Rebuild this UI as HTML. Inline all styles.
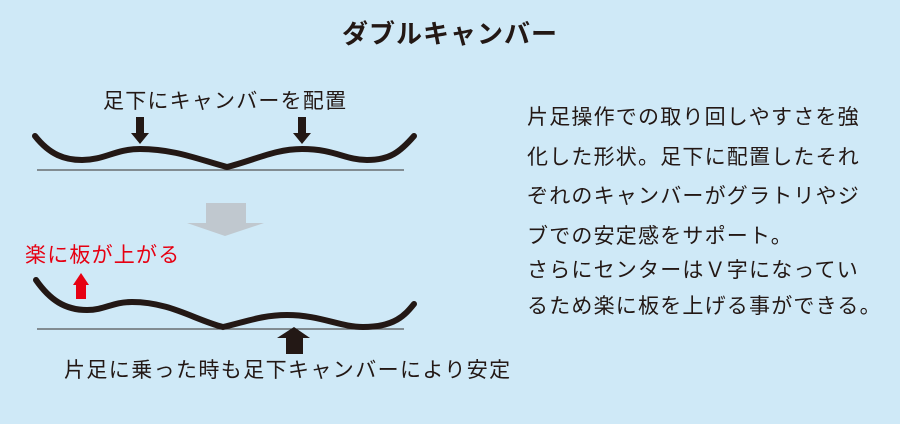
<!DOCTYPE html>
<html><head><meta charset="utf-8"><style>
html,body{margin:0;padding:0;background:#cfe9f7;}
svg{display:block;}
text{font-family:"Liberation Sans","Noto Sans CJK JP",sans-serif;fill:#231815;}
</style></head><body>
<svg width="900" height="424" viewBox="0 0 900 424" xmlns="http://www.w3.org/2000/svg">
<rect width="900" height="424" fill="#cfe9f7"/>
<text x="450" y="43" text-anchor="middle" font-size="26" font-weight="bold" letter-spacing="1">ダブルキャンバー</text>

<text x="103" y="108" font-size="21" letter-spacing="1.2">足下にキャンバーを配置</text>
<g fill="#231815">
<rect x="136" y="117" width="8" height="17"/><polygon points="131,133 149,133 140,144"/>
<rect x="298" y="117" width="8" height="17"/><polygon points="293,133 311,133 302,144"/>
</g>
<line x1="37" y1="170" x2="404" y2="170" stroke="#555" stroke-width="1.3"/>
<path d="M35,136 C50,155 65,160 82,160 C105,160 115,149 140,149 C175,149 200,160 227,167 C255,160 275,149 302,149 C335,149 345,160 367,160 C390,160 400,152 414,136" fill="none" stroke="#231815" stroke-width="6" stroke-linecap="round"/>

<g fill="#c0c8cf"><rect x="206" y="203" width="40" height="21"/><polygon points="187,223 264,223 225,236"/></g>

<text x="25" y="262" font-size="21" letter-spacing="1.2" style="fill:#e60012">楽に板が上がる</text>
<g fill="#e60012"><rect x="76" y="283" width="10" height="16"/><polygon points="73,285 89,285 81,273"/></g>

<line x1="37" y1="329" x2="404" y2="329" stroke="#555" stroke-width="1.3"/>
<path d="M36,280 C50,300 65,310 87,310 C105,310 112,302 132,302 C170,302 195,320 223,327 C245,322 262,315 287,315 C320,315 340,327 363,327 C395,327 405,315 414,304" fill="none" stroke="#231815" stroke-width="6" stroke-linecap="round"/>
<g fill="#231815"><rect x="286" y="337" width="17" height="17"/><polygon points="277,338 310,338 294,327"/></g>

<text x="64" y="377" font-size="21" letter-spacing="1.4">片足に乗った時も足下キャンバーにより安定</text>

<g font-size="21" letter-spacing="1.2">
<text x="527" y="124">片足操作での取り回しやすさを強</text>
<text x="527" y="164">化した形状。足下に配置したそれ</text>
<text x="527" y="203">ぞれのキャンバーがグラトリやジ</text>
<text x="527" y="243">ブでの安定感をサポート。</text>
<text x="527" y="277">さらにセンターはＶ字になってい</text>
<text x="527" y="313">るため楽に板を上げる事ができる。</text>
</g>
</svg>
</body></html>
